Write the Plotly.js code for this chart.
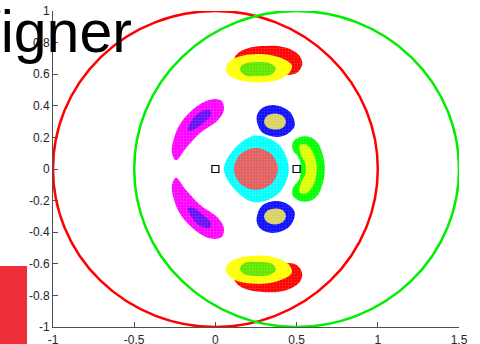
<!DOCTYPE html>
<html>
<head>
<meta charset="utf-8">
<script src="https://cdn.plot.ly/plotly-3.0.1.min.js"></script>
<style>html,body{margin:0;padding:0;background:#fff;}#chart{width:480px;height:344px;}</style>
</head>
<body>
<div id="chart"></div>
<script>
// ---- data ----
const xTickVals = [-1, -0.5, 0, 0.5, 1, 1.5];
const xTickText = ['-1', '-0.5', '0', '0.5', '1', '1.5'];
const yTickVals = [-1, -0.8, -0.6, -0.4, -0.2, 0, 0.2, 0.4, 0.6, 0.8, 1];
const yTickText = ['-1', '-0.8', '-0.6', '-0.4', '-0.2', '0', '0.2', '0.4', '0.6', '0.8', '1'];

// big circles: centers and radius
const circleCx = [0, 0.5];
const circleCy = [0, 0];
const circleR = [1, 1];
const circleColors = ['#ff0000', '#00ee00'];

// reference points (small squares)
const refX = [0, 0.5];
const refY = [0, 0];

// top lobe
const topRedX = [0.114, 0.138, 0.2, 0.286, 0.385, 0.471, 0.52, 0.535, 0.505, 0.44, 0.335, 0.212, 0.138, 0.114];
const topRedY = [0.689, 0.733, 0.765, 0.778, 0.778, 0.753, 0.714, 0.664, 0.61, 0.595, 0.626, 0.651, 0.664, 0.689];
const topYelX = [0.065, 0.089, 0.151, 0.243, 0.335, 0.422, 0.471, 0.458, 0.409, 0.323, 0.212, 0.126, 0.077, 0.065];
const topYelY = [0.638, 0.683, 0.714, 0.727, 0.721, 0.695, 0.657, 0.613, 0.575, 0.55, 0.55, 0.569, 0.6, 0.638];
const topGrnX = [0.151, 0.175, 0.255, 0.335, 0.372, 0.348, 0.262, 0.182, 0.151];
const topGrnY = [0.632, 0.664, 0.677, 0.67, 0.638, 0.6, 0.588, 0.594, 0.632];

// bottom lobe
const botRedX = [0.114, 0.138, 0.2, 0.286, 0.385, 0.471, 0.52, 0.535, 0.505, 0.44, 0.335, 0.212, 0.138, 0.114];
const botRedY = [-0.689, -0.733, -0.765, -0.778, -0.778, -0.753, -0.714, -0.664, -0.61, -0.595, -0.626, -0.651, -0.664, -0.689];
const botYelX = [0.065, 0.089, 0.151, 0.243, 0.335, 0.422, 0.471, 0.458, 0.409, 0.323, 0.212, 0.126, 0.077, 0.065];
const botYelY = [-0.638, -0.683, -0.714, -0.727, -0.721, -0.695, -0.657, -0.613, -0.575, -0.55, -0.55, -0.569, -0.6, -0.638];
const botGrnX = [0.151, 0.175, 0.255, 0.335, 0.372, 0.348, 0.262, 0.182, 0.151];
const botGrnY = [-0.632, -0.664, -0.677, -0.67, -0.638, -0.6, -0.588, -0.594, -0.632];

// left lobes
const upMagX = [-0.015, 0.04, 0.052, 0.015, -0.095, -0.182, -0.243, -0.268, -0.255, -0.218, -0.157, -0.083, -0.015];
const upMagY = [0.442, 0.429, 0.372, 0.309, 0.227, 0.132, 0.055, 0.106, 0.195, 0.284, 0.359, 0.417, 0.442];
const upPurX = [-0.169, -0.145, -0.095, -0.034, -0.028, -0.077, -0.138, -0.169];
const upPurY = [0.246, 0.309, 0.359, 0.372, 0.34, 0.29, 0.246, 0.246];
const loMagX = [-0.015, 0.04, 0.052, 0.015, -0.095, -0.182, -0.243, -0.268, -0.255, -0.218, -0.157, -0.083, -0.015];
const loMagY = [-0.442, -0.429, -0.372, -0.309, -0.227, -0.132, -0.055, -0.106, -0.195, -0.284, -0.359, -0.417, -0.442];
const loPurX = [-0.169, -0.145, -0.095, -0.034, -0.028, -0.077, -0.138, -0.169];
const loPurY = [-0.246, -0.309, -0.359, -0.372, -0.34, -0.29, -0.246, -0.246];

// central disc
const cyanX = [0.052, 0.138, 0.252, 0.394, 0.452, 0.394, 0.252, 0.138, 0.052];
const cyanY = [0, 0.15, 0.212, 0.15, 0, -0.15, -0.212, -0.15, 0];
const salmonX = [0.114, 0.154, 0.249, 0.345, 0.385, 0.345, 0.249, 0.154, 0.114];
const salmonY = [0, 0.094, 0.133, 0.094, 0, -0.094, -0.133, -0.094, 0];

// small blue rings
const upBlueX = [0.254, 0.284, 0.366, 0.458, 0.489, 0.448, 0.377, 0.284, 0.254];
const upBlueY = [0.33, 0.383, 0.404, 0.362, 0.277, 0.225, 0.203, 0.235, 0.33];
const upKhakiX = [0.3, 0.315, 0.366, 0.417, 0.434, 0.417, 0.377, 0.321, 0.3];
const upKhakiY = [0.298, 0.334, 0.351, 0.334, 0.298, 0.263, 0.25, 0.263, 0.298];
const loBlueX = [0.254, 0.284, 0.366, 0.458, 0.489, 0.448, 0.377, 0.284, 0.254];
const loBlueY = [-0.33, -0.383, -0.404, -0.362, -0.277, -0.225, -0.203, -0.235, -0.33];
const loKhakiX = [0.3, 0.315, 0.366, 0.417, 0.434, 0.417, 0.377, 0.321, 0.3];
const loKhakiY = [-0.298, -0.334, -0.351, -0.334, -0.298, -0.263, -0.25, -0.263, -0.298];

// right crescent
const cresGrnX = [0.526, 0.514, 0.477, 0.477, 0.52, 0.582, 0.631, 0.662, 0.674, 0.662, 0.631, 0.582, 0.52, 0.477, 0.477, 0.514, 0.526];
const cresGrnY = [0, 0.07, 0.12, 0.17, 0.203, 0.203, 0.165, 0.087, 0, -0.087, -0.165, -0.203, -0.203, -0.17, -0.12, -0.07, 0];
const cresYelX = [0.557, 0.551, 0.526, 0.52, 0.557, 0.594, 0.618, 0.625, 0.618, 0.594, 0.557, 0.52, 0.526, 0.551, 0.557];
const cresYelY = [0, 0.04, 0.09, 0.15, 0.155, 0.118, 0.055, 0, -0.055, -0.118, -0.155, -0.15, -0.09, -0.04, 0];

// ---- build ----
function blob(xs, ys, color, fg) {
  return {
    type: 'scatter', x: xs, y: ys, mode: 'lines',
    line: {width: 0, shape: 'spline', smoothing: 1, color: color},
    fill: 'toself', fillcolor: color,
    fillpattern: {shape: '+', size: 3, solidity: 0.25, bgcolor: color, fgcolor: fg, fgopacity: 0.45},
    hoverinfo: 'skip', showlegend: false
  };
}

const traces = [
  blob(topRedX, topRedY, '#ff0000', '#ff8080'),
  blob(topYelX, topYelY, '#ffff00', '#ffffa0'),
  blob(topGrnX, topGrnY, '#5ee600', '#b0ff60'),
  blob(botRedX, botRedY, '#ff0000', '#ff8080'),
  blob(botYelX, botYelY, '#ffff00', '#ffffa0'),
  blob(botGrnX, botGrnY, '#5ee600', '#b0ff60'),
  blob(upMagX, upMagY, '#ff00ff', '#ff90ff'),
  blob(upPurX, upPurY, '#6a10f0', '#a070ff'),
  blob(loMagX, loMagY, '#ff00ff', '#ff90ff'),
  blob(loPurX, loPurY, '#6a10f0', '#a070ff'),
  blob(cyanX, cyanY, '#00ffff', '#a0ffff'),
  blob(salmonX, salmonY, '#e06060', '#f0a0a0'),
  blob(upBlueX, upBlueY, '#1010ff', '#7070ff'),
  blob(upKhakiX, upKhakiY, '#d8d264', '#eeeaa8'),
  blob(loBlueX, loBlueY, '#1010ff', '#7070ff'),
  blob(loKhakiX, loKhakiY, '#d8d264', '#eeeaa8'),
  blob(cresGrnX, cresGrnY, '#00ff00', '#90ff90'),
  blob(cresYelX, cresYelY, '#dcff00', '#f0ffa0'),
  {
    type: 'scatter', x: refX, y: refY, mode: 'markers',
    marker: {symbol: 'square-open', size: 7, color: '#000000', line: {width: 1.2, color: '#222'}},
    hoverinfo: 'skip', showlegend: false
  }
];

const shapes = circleCx.map((cx, i) => ({
  type: 'circle', xref: 'x', yref: 'y',
  x0: cx - circleR[i], x1: cx + circleR[i],
  y0: circleCy[i] - circleR[i], y1: circleCy[i] + circleR[i],
  line: {color: circleColors[i], width: 2.5}, layer: 'above'
}));
shapes.push({
  type: 'rect', xref: 'paper', yref: 'paper',
  x0: -0.14, x1: -0.064, y0: -0.1, y1: 0.193,
  fillcolor: '#ee2e38', line: {width: 0}, layer: 'above'
});

const axisCommon = {
  showgrid: false, zeroline: false, showline: true, linecolor: '#505050', linewidth: 1,
  ticks: 'inside', ticklen: 5, tickcolor: '#505050', tickwidth: 1,
  tickfont: {family: 'Liberation Sans, Arial, sans-serif', size: 12, color: '#262626'},
  mirror: false, automargin: false, fixedrange: true
};

const layout = {
  width: 480, height: 344,
  margin: {l: 53, r: 21, t: 11, b: 17, pad: 0},
  paper_bgcolor: '#ffffff', plot_bgcolor: '#ffffff',
  showlegend: false,
  xaxis: Object.assign({}, axisCommon, {range: [-1, 1.5], tickmode: 'array', tickvals: xTickVals, ticktext: xTickText, ticklabelstandoff: 2}),
  yaxis: Object.assign({}, axisCommon, {range: [-1, 1], tickmode: 'array', tickvals: yTickVals, ticktext: yTickText}),
  shapes: shapes,
  annotations: [{
    text: 'Wigner', xref: 'paper', yref: 'paper', x: 0.2, y: 0.94, yshift: -2,
    xanchor: 'right', yanchor: 'middle', showarrow: false,
    font: {family: 'Liberation Sans, Arial, sans-serif', size: 59, color: '#000000'}
  }]
};

Plotly.newPlot('chart', traces, layout, {displayModeBar: false, staticPlot: true});
</script>
</body>
</html>
